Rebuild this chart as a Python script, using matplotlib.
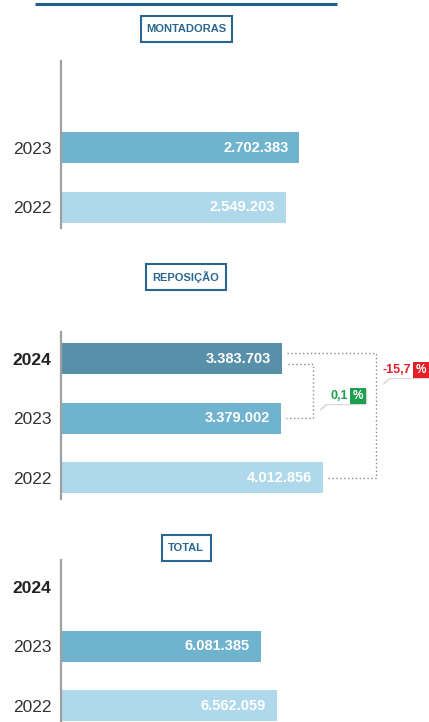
import matplotlib
matplotlib.use("Agg")
import matplotlib.pyplot as plt
from matplotlib.patches import Rectangle, Polygon

W, H = 429, 722

# data
years = ["2024", "2023", "2022"]
montadoras = [None, 2702383, 2549203]
reposicao = [3383703, 3379002, 4012856]
total = [None, 6081385, 6562059]
montadoras_years = ["", "2023", "2022"]
panel_titles = ["MONTADORAS", "REPOSIÇÃO", "TOTAL"]

bar_colors = ["#5790a8", "#6fb3cf", "#afd8ea"]
title_blue = "#2b6690"
narrow = ["Liberation Sans Narrow", "Liberation Sans", "DejaVu Sans"]
sans = ["Liberation Sans", "DejaVu Sans"]

fig = plt.figure(figsize=(W / 100, H / 100), dpi=100)

# overlay axes in pixel coordinates
ov = fig.add_axes([0, 0, 1, 1], zorder=5)
ov.set_xlim(0, W)
ov.set_ylim(H, 0)
ov.axis("off")
ov.patch.set_alpha(0)


def fmt(v):
    return f"{v:,.0f}".replace(",", ".")


def to_px(ax, x, y):
    dx, dy = ax.transData.transform((x, y))
    return dx, H - dy


def panel(top, values, labels, xmax):
    step = 59.5
    y0, y1 = -0.45, 2.35
    h = (y1 - y0) * step
    ax = fig.add_axes([61 / W, 1 - (top + h) / H, (W - 61) / W, h / H])
    ax.set_xlim(0, xmax)
    ax.set_ylim(y1, y0)
    for i, v in enumerate(values):
        if v is None:
            continue
        ax.barh(i, v, height=0.52, color=bar_colors[i])
        ax.annotate(fmt(v), (v, i), xytext=(-8, 0), textcoords="offset points",
                    ha="right", va="center", color="white", fontsize=10.5,
                    fontweight="bold", family=sans)
    ax.set_yticks(range(3))
    ax.set_yticklabels(labels, fontsize=12.5, family=sans, color="#333333")
    for lab in ax.get_yticklabels():
        if lab.get_text() == "2024":
            lab.set_fontweight("bold")
            lab.set_color("#222222")
    ax.tick_params(axis="y", length=0, pad=7)
    ax.set_xticks([])
    for s in ["top", "right", "bottom"]:
        ax.spines[s].set_visible(False)
    ax.spines["left"].set_color("#a0a0a0")
    ax.spines["left"].set_linewidth(1.6)
    ax.patch.set_alpha(0)
    return ax


def title_box(cx, cy, text, w):
    ov.add_patch(Rectangle((cx - w / 2, cy - 13), w, 26, fill=False,
                           ec=title_blue, lw=1.5))
    ov.text(cx, cy + 0.5, text, ha="center", va="center", color=title_blue,
            fontsize=8, fontweight="bold", family=narrow)


def callout(x0, y0, txt, color):
    w1, w2, hh = 31, 16, 16
    for dx, fc in [(1.2, "#d9d9d9"), (0, "white")]:
        ov.add_patch(Polygon([(x0 + dx, y0 + dx), (x0 + w1 + w2 + dx, y0 + dx),
                              (x0 + w1 + w2 + dx, y0 + hh + dx),
                              (x0 + 7 + dx, y0 + hh + dx), (x0 + dx, y0 + hh + 6 + dx),
                              (x0 + dx, y0 + dx)], closed=True, fc=fc, ec="none",
                             zorder=3))
    ov.add_patch(Rectangle((x0 + w1, y0), w2, hh, fc=color, ec="none", zorder=4))
    ov.text(x0 + w1 - 2, y0 + hh / 2, txt, ha="right", va="center", color=color,
            fontsize=9, fontweight="bold", family=sans, zorder=5)
    ov.text(x0 + w1 + w2 / 2, y0 + hh / 2, "%", ha="center", va="center",
            color="white", fontsize=8.5, fontweight="bold", family=sans, zorder=5)


# top rule
ov.plot([35, 337], [4, 4], color="#1f5f8b", lw=2.2, solid_capstyle="butt")

title_box(186, 29, panel_titles[0], 91)
title_box(186, 276.5, panel_titles[1], 80)
title_box(186, 547.5, panel_titles[2], 49)

ax1 = panel(61.5, montadoras, montadoras_years, 4.17e6)
ax2 = panel(332, reposicao, years, 5.64e6)
ax3 = panel(560, total, years, 11.2e6)

# change connectors
dot = dict(color="#8a8a8a", lw=1, ls=(0, (1, 1.8)))
xa, ya = to_px(ax2, reposicao[0], 0)
xb, yb = to_px(ax2, reposicao[1], 1)
xc, yc = to_px(ax2, reposicao[2], 2)
ov.plot([xa + 5, 376, 376, xc + 5], [ya - 6, ya - 6, yc, yc], **dot)
ov.plot([xa + 6, 313, 313, xb + 5], [ya + 5, ya + 5, yb, yb], **dot)

ch_22 = (reposicao[0] - reposicao[2]) / reposicao[2] * 100
ch_23 = (reposicao[0] - reposicao[1]) / reposicao[1] * 100
callout(382, 362, f"{ch_22:.1f}".replace(".", ","), "#e3202a")
callout(319, 388, f"{ch_23:.1f}".replace(".", ","), "#1e9e4f")

fig.savefig("out.png", dpi=100)
